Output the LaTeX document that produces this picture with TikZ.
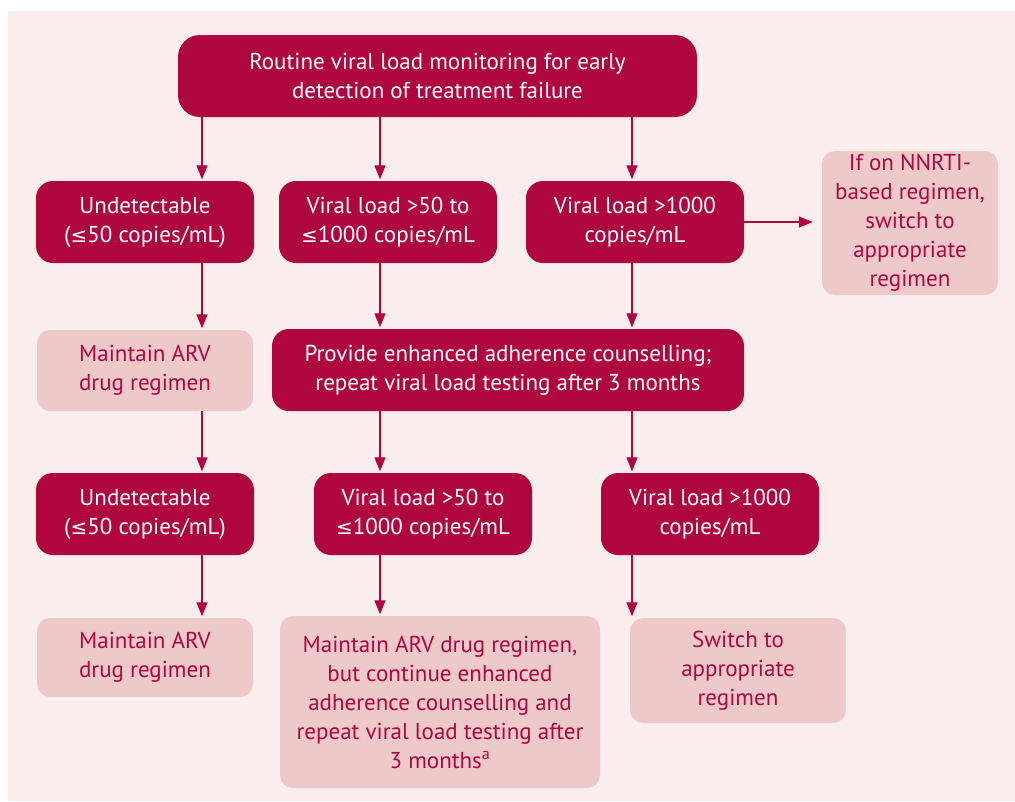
\documentclass[tikz,border=0pt]{standalone}
\usepackage{fontspec}
\setmainfont{PT Sans}
\newfontfamily\symfont{DejaVu Sans}
\newcommand{\lesym}{{\symfont\fontsize{20}{29}\selectfont ≤}}
\usetikzlibrary{arrows.meta}
\definecolor{crim}{RGB}{176,6,64}
\definecolor{blush}{RGB}{237,201,201}
\definecolor{paper}{RGB}{249,238,237}
\tikzset{
  base/.style={align=center, font=\fontsize{23}{29}\selectfont, inner sep=0pt},
  dark/.style={base, fill=crim, text=white, rounded corners=17pt},
  light/.style={base, fill=blush, text=crim, rounded corners=13pt},
  arr/.style={draw=crim, line width=1.3pt, -{Triangle[length=14pt,width=11pt]}, shorten >=1.5pt}
}
\begin{document}
\begin{tikzpicture}[x=1pt,y=-1pt]
\useasboundingbox (0,0) rectangle (1015,801);
\fill[white] (0,0) rectangle (1015,801);
\fill[paper] (8,11) rectangle (1015,801);

% columns used by the vertical connectors
\coordinate (c1) at (202,0);
\coordinate (c2) at (380,0);
\coordinate (c3) at (632,0);

% first level
\node[dark, minimum width=519pt, minimum height=82pt, rounded corners=22pt] (top) at (437.5,76)
  {Routine viral load monitoring for early\\detection of treatment failure};

% first result
\node[dark, minimum width=218pt, minimum height=82pt] (u1) at (145,222)
  {Undetectable\\(\lesym50 copies/mL)};
\node[dark, minimum width=218pt, minimum height=82pt] (v1) at (388,222)
  {Viral load >50 to\\\lesym1000 copies/mL};
\node[dark, minimum width=218pt, minimum height=82pt] (h1) at (635,222)
  {Viral load >1000\\copies/mL};
\node[light, minimum width=176pt, minimum height=144pt] (nn) at (910,223)
  {If on NNRTI-\\based regimen,\\switch to\\appropriate\\regimen};

% follow-up
\node[light, minimum width=216pt, minimum height=81pt] (m1) at (145,370.5)
  {Maintain ARV\\drug regimen};
\node[dark, minimum width=472pt, minimum height=82pt] (adh) at (508,370)
  {Provide enhanced adherence counselling;\\repeat viral load testing after 3 months};

% second result
\node[dark, minimum width=218pt, minimum height=82pt] (u2) at (145,514)
  {Undetectable\\(\lesym50 copies/mL)};
\node[dark, minimum width=218pt, minimum height=82pt] (v2) at (423,514)
  {Viral load >50 to\\\lesym1000 copies/mL};
\node[dark, minimum width=218pt, minimum height=82pt] (h2) at (710,514)
  {Viral load >1000\\copies/mL};

% actions
\node[light, minimum width=216pt, minimum height=79pt] (m2) at (145,657.5)
  {Maintain ARV\\drug regimen};
\node[light, minimum width=320pt, minimum height=172pt] (lng) at (440,702)
  {Maintain ARV drug regimen,\\but continue enhanced\\adherence counselling and\\repeat viral load testing after\\3 months\textsuperscript{a}};
\node[light, minimum width=216pt, minimum height=105pt] (sw) at (738,670.5)
  {Switch to\\appropriate\\regimen};

% connectors
\draw[arr] (top.south -| c1) -- (u1.north -| c1);
\draw[arr] (top.south -| c2) -- (v1.north -| c2);
\draw[arr] (top.south -| c3) -- (h1.north -| c3);
\draw[arr, shorten >=9pt] (h1.east) -- (nn.west |- h1.east);

\draw[arr] (u1.south -| c1) -- (m1.north -| c1);
\draw[arr] (v1.south -| c2) -- (adh.north -| c2);
\draw[arr] (h1.south -| c3) -- (adh.north -| c3);

\draw[arr] (m1.south -| c1) -- (u2.north -| c1);
\draw[arr] (adh.south -| c2) -- (v2.north -| c2);
\draw[arr] (adh.south -| c3) -- (h2.north -| c3);

\draw[arr] (u2.south -| c1) -- (m2.north -| c1);
\draw[arr] (v2.south -| c2) -- (lng.north -| c2);
\draw[arr] (h2.south -| c3) -- (sw.north -| c3);
\end{tikzpicture}
\end{document}
